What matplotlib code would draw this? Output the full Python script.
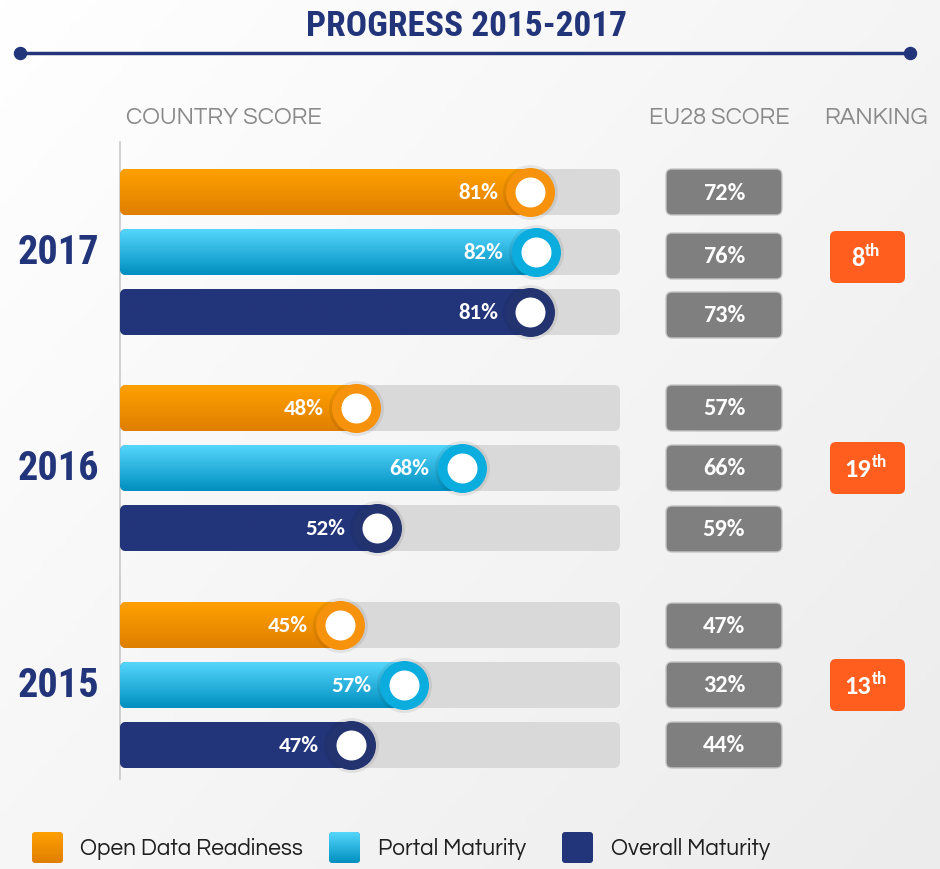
import numpy as np
import matplotlib.pyplot as plt
from matplotlib.patches import FancyBboxPatch
from matplotlib.colors import LinearSegmentedColormap

# data
years = ["2017", "2016", "2015"]
series = ["Open Data Readiness", "Portal Maturity", "Overall Maturity"]
open_data = [81, 48, 45]
portal = [82, 68, 57]
overall = [81, 52, 47]
eu28_open_data = [72, 57, 47]
eu28_portal = [76, 66, 32]
eu28_overall = [73, 59, 44]
ranking = [8, 19, 13]

# styling
W, H = 940, 870
NAVY = "#23357a"
grad_top = ["#ffa000", "#55d6fc", "#23357a"]
grad_bot = ["#df7f00", "#008fbf", "#23357a"]
ring = ["#f7920c", "#0badde", "#22336f"]
COND = ["Roboto Condensed", "Liberation Sans Narrow", "DejaVu Sans"]
LIGHT = ["Questrial", "Didact Gothic", "Lato", "DejaVu Sans"]
BOLD = ["Carlito", "Open Sans", "DejaVu Sans"]

group_y = [193, 409, 626]
row_gap = 60
bar_h = 46
eu_y = [[193, 257, 316], [409, 469, 530], [627, 686, 746]]
rank_y = [258, 469, 686]
# the grey track in the reference covers roughly 3 % .. 98 %
x_lo, x_hi = 3.3, 98.0
px_per_unit = 500 / (x_hi - x_lo)


def gradient(ax, x0, x1, y0, y1, top, bottom, clip, z):
    cmap = LinearSegmentedColormap.from_list("g", [top, bottom])
    grad = np.linspace(0, 1, 64).reshape(-1, 1)
    im = ax.imshow(grad, cmap=cmap, extent=(x0, x1, y1, y0), aspect="auto",
                   origin="upper", zorder=z, interpolation="bilinear")
    im.set_clip_path(clip)


fig = plt.figure(figsize=(W / 100, H / 100), dpi=100)

# background axes in pixel units
bg = fig.add_axes([0, 0, 1, 1])
yy, xx = np.mgrid[0:1:200j, 0:1:200j]
bg.imshow(0.55 * xx + 0.45 * yy, extent=(0, W, H, 0), aspect="auto", zorder=0,
          cmap=LinearSegmentedColormap.from_list("bg", ["#ffffff", "#ececec"]))

bg.text(466, 27, "PROGRESS 2015-2017", ha="center", va="center", fontsize=25.5,
        fontweight="bold", color=NAVY, family=COND)
bg.plot([20, 910], [54, 54], color=NAVY, lw=2.5, zorder=2)
bg.scatter([20, 910], [54, 54], s=(12 * 0.72) ** 2, color=NAVY, zorder=3)

bg.text(126, 118, "COUNTRY SCORE", ha="left", va="center", fontsize=17,
        color="#8a8a8a", family=LIGHT)
bg.text(719, 118, "EU28 SCORE", ha="center", va="center", fontsize=17,
        color="#8a8a8a", family=LIGHT)
bg.text(876, 118, "RANKING", ha="center", va="center", fontsize=17,
        color="#8a8a8a", family=LIGHT)

bg.plot([120, 120], [143, 780], color="#c9c9c9", lw=1.2, zorder=2)

# bars axes: x in percent, y in pixels
ax = fig.add_axes([120 / W, 0, 500 / W, 1])

scores = [open_data, portal, overall]
eu_scores = [eu28_open_data, eu28_portal, eu28_overall]

for g, year in enumerate(years):
    bg.text(58, group_y[g] + row_gap, year, ha="center", va="center", fontsize=29,
            fontweight="bold", color=NAVY, family=COND)
    for i in range(3):
        y = group_y[g] + i * row_gap
        v = scores[i][g]
        track = FancyBboxPatch((x_lo, y - bar_h / 2), x_hi - x_lo, bar_h,
                               boxstyle="round,pad=0,rounding_size=1.2",
                               mutation_aspect=px_per_unit, fc="#d9d9d9", ec="none",
                               zorder=1)
        ax.add_patch(track)
        bars = ax.barh([y], [v - x_lo], left=x_lo, height=bar_h, color=grad_bot[i],
                       zorder=2)
        bars[0].set_clip_path(track)
        gradient(ax, x_lo, v, y - bar_h / 2, y + bar_h / 2, grad_top[i], grad_bot[i],
                 track, 3)
        ax.scatter([v], [y], s=(55 * 0.72) ** 2, color="black", alpha=0.07,
                   zorder=4, clip_on=False, linewidths=0)
        ax.scatter([v], [y], s=(49 * 0.72) ** 2, color=ring[i], zorder=5,
                   clip_on=False, linewidths=0)
        ax.scatter([v], [y], s=(30 * 0.72) ** 2, color="white", zorder=6,
                   clip_on=False, linewidths=0)
        ax.annotate(f"{v}%", (v, y), xytext=(-32 * 0.72, 0), textcoords="offset points",
                    ha="right", va="center", color="white", fontsize=16.5,
                    fontweight="bold", family=BOLD, zorder=7)

        # EU28 score box
        ey = eu_y[g][i]
        box = FancyBboxPatch((666, ey - 23), 116, 46,
                             boxstyle="round,pad=0,rounding_size=6",
                             fc="#7f7f7f", ec="#c4c4c4", lw=1, zorder=2)
        bg.add_patch(box)
        bg.text(724, ey, f"{eu_scores[i][g]}%", ha="center", va="center",
                fontsize=17.5, fontweight="bold", color="white", family=BOLD, zorder=3)

    # ranking box
    ry = rank_y[g]
    rbox = FancyBboxPatch((830, ry - 26), 75, 52,
                          boxstyle="round,pad=0,rounding_size=6",
                          fc="#ff5e1f", ec="none", zorder=2)
    bg.add_patch(rbox)
    main = bg.text(858, ry + 1, f"{ranking[g]}", ha="center", va="center",
                   fontsize=19, fontweight="bold", color="white", family=BOLD, zorder=3)
    bg.annotate("th", xy=(1, 0.5), xycoords=main, xytext=(0.5, 0),
                textcoords="offset points", ha="left", va="bottom", fontsize=12.5,
                fontweight="bold", color="white", family=BOLD, zorder=3)

# legend
leg_x = [32, 329, 562]
leg_tx = [80, 378, 611]
for i, name in enumerate(series):
    sq = FancyBboxPatch((leg_x[i], 833), 31, 31, boxstyle="round,pad=0,rounding_size=4",
                        fc=grad_bot[i], ec="none", zorder=2)
    bg.add_patch(sq)
    gradient(bg, leg_x[i], leg_x[i] + 31, 833, 864, grad_top[i], grad_bot[i], sq, 3)
    bg.text(leg_tx[i], 849, name, ha="left", va="center", fontsize=16.3,
            color="#1f1f1f", family=LIGHT)

bg.set_xlim(0, W)
bg.set_ylim(H, 0)
bg.axis("off")
ax.set_xlim(x_lo, x_hi)
ax.set_ylim(H, 0)
ax.axis("off")

fig.savefig("out.png", dpi=100)
